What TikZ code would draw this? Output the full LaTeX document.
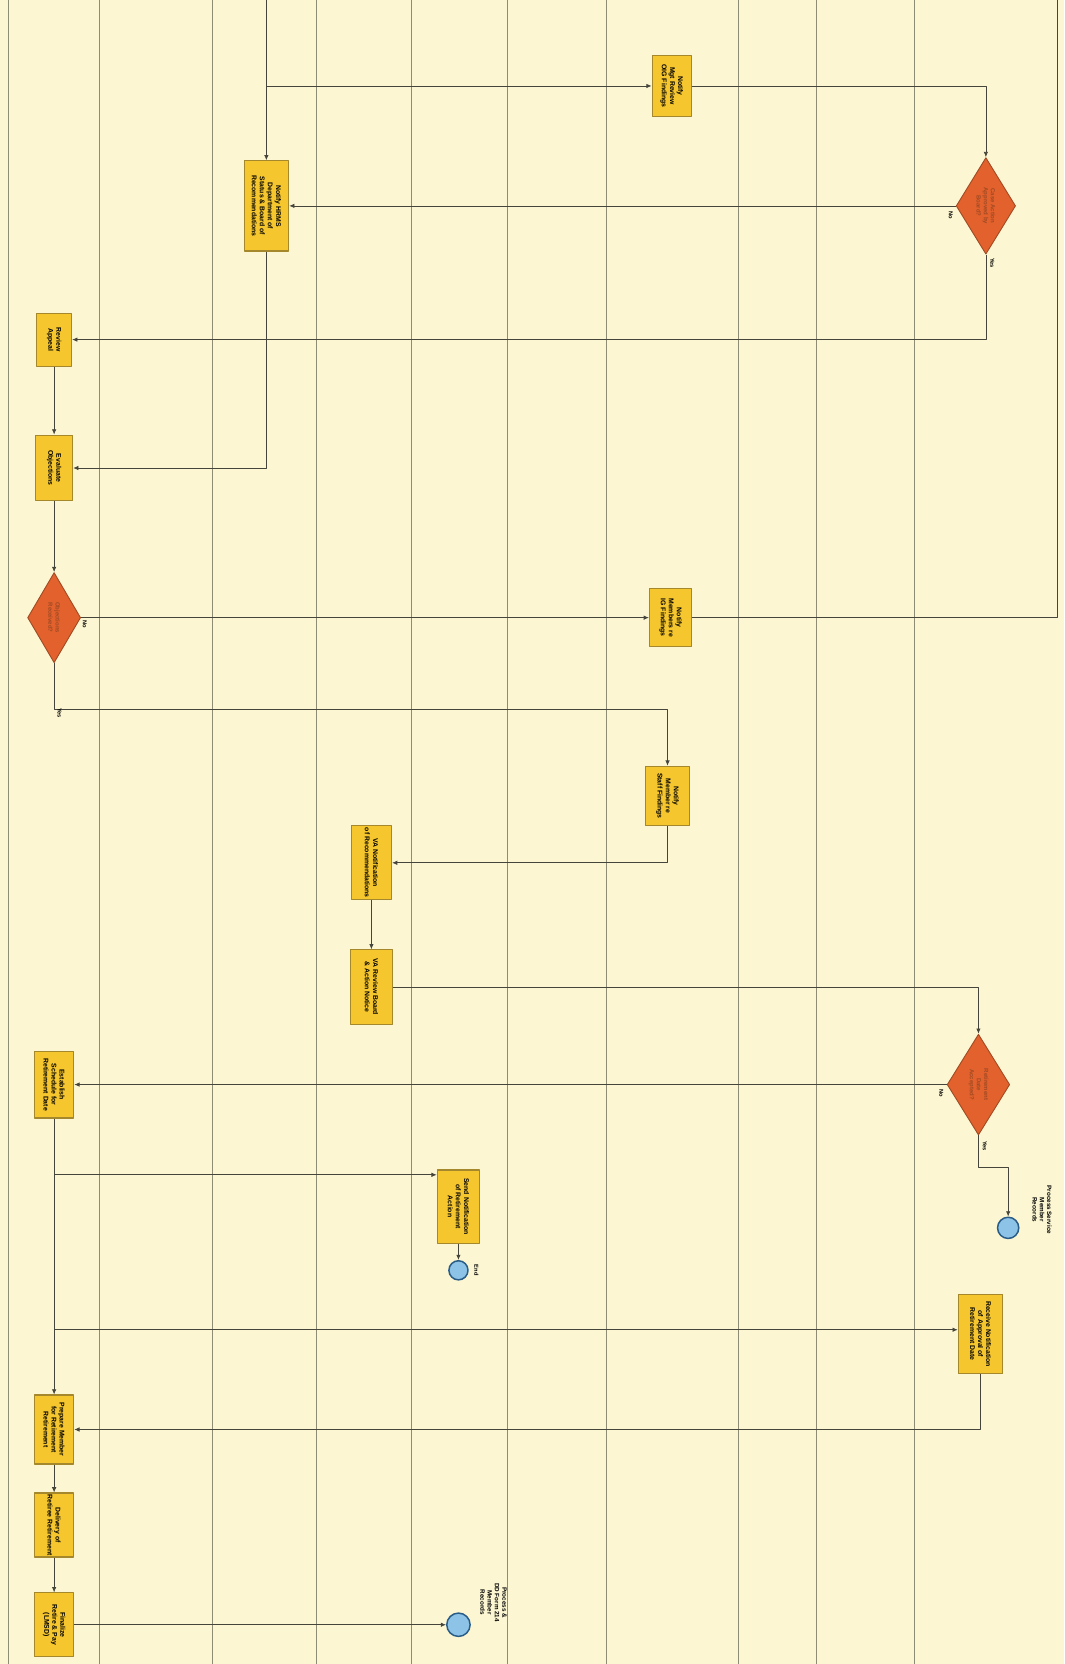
\documentclass[tikz,border=0pt]{standalone}
\usepackage{fontspec}
\setmainfont{Liberation Sans}
\usetikzlibrary{arrows.meta,shapes.geometric}
\definecolor{paper}{HTML}{FCF7D2}
\definecolor{lane}{HTML}{8E8C74}
\definecolor{wire}{HTML}{45453C}
\definecolor{task}{HTML}{F5C62E}
\definecolor{taskedge}{HTML}{A6882C}
\definecolor{gate}{HTML}{E2612C}
\definecolor{gateedge}{HTML}{A04A24}
\definecolor{event}{HTML}{8CC3E6}
\definecolor{eventedge}{HTML}{2A5C88}

\def\u{0.025cm}

\begin{document}
\begin{tikzpicture}[x=0.025cm,y=-0.025cm,>={Latex[length=3.5pt,width=3pt]},
    line join=round,
    wire/.style={draw=wire,line width=0.5pt},
    task/.style 2 args={draw=taskedge,fill=task,line width=0.7pt,rotate=-90,
      align=center,inner sep=1pt,minimum width=#1*\u,minimum height=#2*\u,
      font=\fontsize{4.6}{5.4}\selectfont\bfseries},
    gate/.style 2 args={diamond,draw=gateedge,fill=gate,line width=0.6pt,rotate=-90,
      align=center,inner sep=0pt,minimum width=#1*\u,minimum height=#2*\u,
      text=gateedge,font=\fontsize{4}{4.8}\selectfont\bfseries},
    event/.style={circle,draw=eventedge,fill=event,line width=1pt,
      inner sep=0pt,minimum size=#1*\u},
    flag/.style={rotate=-90,inner sep=1pt,font=\fontsize{3.8}{4.4}\selectfont\bfseries},
    note/.style={rotate=-90,align=center,inner sep=1pt,
      font=\fontsize{4.2}{4.9}\selectfont\bfseries}]

  \useasboundingbox (0,0) rectangle (1003,1568);
  \fill[paper] (0,0) rectangle (1003,1568);

  % swim lanes
  \foreach \lx in {8,94,200,298,388,478,571,696,769,862}
    \draw[lane,line width=0.6pt] (\lx,0) -- (\lx,1568);

  % tasks and gates
  \node[task={58}{37}] (notifyOig) at (633,81) {Notify\\Mgt Review\\OIG Findings};
  \node[task={85}{42}] (notifyDept) at (251,194)
    {Notify HRMS\\Department of\\Status \& Board of\\Recommendations};
  \node[gate={91}{56}] (approve) at (929,194) {Case Action\\Approved by\\Board?};
  \node[task={50}{33}] (review) at (51,320) {Review\\Appeal};
  \node[task={62}{35}] (evaluate) at (51,441) {Evaluate\\Objections};
  \node[gate={85}{50}] (objected) at (51,582) {Objections\\Received?};
  \node[task={55}{40}] (notifyIg) at (632,582) {Notify\\Members re\\IG Findings};
  \node[task={56}{42}] (notifyStaff) at (629,750) {Notify\\Member re\\Staff Findings};
  \node[task={70}{38}] (vaNotice) at (350,813) {VA Notification\\of Recommendations};
  \node[task={70}{40}] (vaReview) at (350,930) {VA Review Board\\\& Action Notice};
  \node[gate={95}{59}] (retireOk) at (922,1022) {Retirement\\Date\\Accepted?};
  \node[task={63}{37}] (schedule) at (51,1022) {Establish\\Schedule for\\Retirement Date};
  \node[task={69}{40}] (sendNote) at (432,1137) {Send Notification\\of Retirement\\Action};
  \node[event=18] (endA) at (432,1197) {};
  \node[event=20] (offpage) at (950,1157) {};
  \node[task={75}{42}] (approval) at (924,1257)
    {Receive Notification\\of Approval of\\Retirement Date};
  \node[task={65}{37}] (prepare) at (51,1347) {Prepare Member\\for Retirement\\Retirement};
  \node[task={55}{37}] (deliver) at (51,1437) {Delivery of\\Retiree Retirement};
  \node[task={60}{37}] (finalize) at (51,1531) {Finalize\\Retire \& Pay\\(LMSD)};
  \node[event=22] (endB) at (432,1531) {};

  % event labels
  \node[flag] (endAlbl) at (449,1197) {End};
  \node[note] (offlbl) at (982,1140) {Process Service\\Member\\Records};
  \node[note] (endBlbl) at (465,1510) {Process \&\\DD Form 214\\Member\\Records};

  % connectors
  \coordinate (topA) at (251,0);
  \coordinate (kinkA) at (251,81);
  \draw[wire] (topA) -- (kinkA);
  \draw[wire,->] (kinkA) -- (notifyDept);
  \draw[wire,->] (kinkA) -- (notifyOig);
  \draw[wire,->] (notifyOig) -| (approve);
  \draw[wire,->] (approve) -- (notifyDept);
  \draw[wire,->] (approve) |- (review);
  \draw[wire,->] (notifyDept) |- (evaluate);
  \draw[wire,->] (review) -- (evaluate);
  \draw[wire,->] (evaluate) -- (objected);
  \draw[wire,->] (objected) -- (notifyIg);
  \coordinate (rimB) at (996,582);
  \coordinate (rimT) at (996,0);
  \draw[wire] (notifyIg) -- (rimB) -- (rimT);
  \coordinate (yesA) at (51,668);
  \draw[wire,->] (objected) -- (yesA) -| (notifyStaff);
  \draw[wire,->] (notifyStaff) |- (vaNotice);
  \draw[wire,->] (vaNotice) -- (vaReview);
  \draw[wire,->] (vaReview) -| (retireOk);
  \draw[wire,->] (retireOk) -- (schedule);
  \coordinate (yesB) at (922,1100);
  \draw[wire,->] (retireOk) -- (yesB) -| (offpage);
  \coordinate (tapA) at (51,1107);
  \coordinate (tapB) at (51,1253);
  \draw[wire,->] (schedule) -- (prepare);
  \draw[wire,->] (tapA) -- (tapA -| sendNote.south);
  \draw[wire,->] (tapB) -- (tapB -| approval.south);
  \draw[wire,->] (sendNote) -- (endA);
  \draw[wire,->] (approval) |- (prepare);
  \draw[wire,->] (prepare) -- (deliver);
  \draw[wire,->] (deliver) -- (finalize);
  \draw[wire,->] (finalize) -- (endB);

  % gate flags
  \node[flag] (noA) at (896,203) {No};
  \node[flag] (yesAlbl) at (935,248) {Yes};
  \node[flag] (noB) at (80,588) {No};
  \node[flag] (yesBlbl) at (56,672) {Yes};
  \node[flag] (noC) at (887,1030) {No};
  \node[flag] (yesClbl) at (928,1080) {Yes};
\end{tikzpicture}
\end{document}
